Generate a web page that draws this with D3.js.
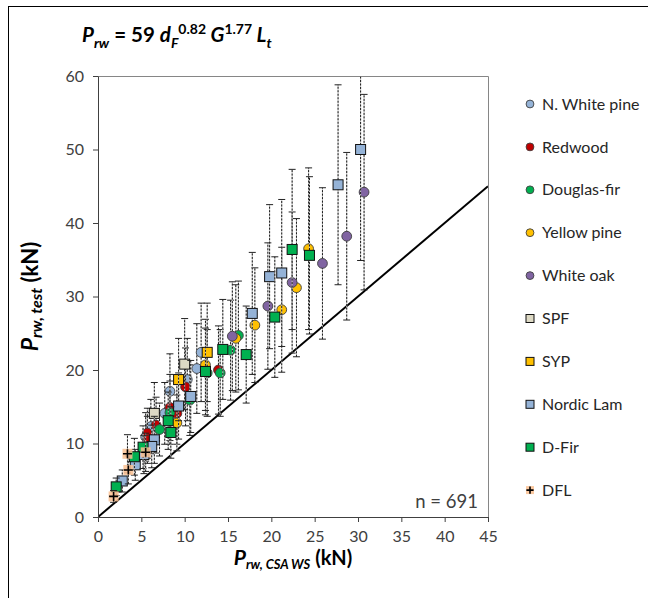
<!DOCTYPE html>
<html>
<head>
<meta charset="utf-8">
<script src="https://cdn.jsdelivr.net/npm/d3@7"></script>
<style>
body { margin: 0; background: #fff; }
svg { display: block; font-family: Lato, "Open Sans", sans-serif; }
</style>
</head>
<body>
<div id="chart"></div>
<script>
// axis ticks
var xTicks = [0, 5, 10, 15, 20, 25, 30, 35, 40, 45];
var yTicks = [0, 10, 20, 30, 40, 50, 60];

// each point: [P_rw CSA WS, P_rw test, error half-width]  (kN)
var nWhitePine = [[11.9,22.4,6.7],[11.4,20.2,6.1],[10.3,18.7,5.6],[8.3,17.1,5.1],[7.7,14.1,4.2],[6.1,12.3,3.7],[5.5,10.9,3.3]];
var redwood = [[13.9,20.0,6.0],[10.1,17.7,5.3],[8.3,14.9,4.5],[9.1,14.1,4.2],[6.7,12.5,3.8],[5.7,11.4,3.4],[5.7,10.5,3.2]];
var douglasFir = [[16.2,24.7,7.4],[15.3,22.7,6.8],[14.1,19.6,5.9],[12.6,19.6,5.9],[10.6,15.9,4.8],[8.3,14.2,4.3],[7.1,11.9,3.6]];
var yellowPine = [[24.3,36.5,11.0],[22.9,31.2,9.4],[21.2,28.2,8.5],[18.1,26.1,7.8],[15.9,24.3,7.3],[12.4,20.7,6.2],[9.1,12.8,3.8]];
var whiteOak = [[30.7,44.2,13.3],[28.7,38.2,11.4],[25.9,34.5,10.3],[22.4,31.9,9.6],[19.6,28.7,8.6],[15.5,24.6,7.4]];
var spf = [[10.0,20.8,6.2],[6.5,14.1,4.2]];
var syp = [[12.6,22.4,6.7],[9.3,18.7,5.6]];
var nordicLam = [[30.3,50.0,15.1],[27.7,45.2,13.6],[21.2,33.2,10.0],[19.8,32.7,9.8],[17.8,27.7,8.3],[10.7,16.4,4.9],[9.3,15.1,4.5],[6.5,10.5,3.2],[6.2,9.6,2.9],[5.3,8.5,2.6],[4.3,7.1,2.1],[2.8,4.9,1.5]];
var dFir = [[22.4,36.4,10.9],[24.4,35.6,10.7],[20.4,27.2,8.2],[14.4,22.8,6.8],[17.1,22.1,6.6],[12.4,19.8,5.9],[8.1,13.1,3.9],[8.4,11.5,3.5],[5.2,9.5,2.9],[4.2,8.2,2.5],[2.1,4.1,1.2]];
var dfl = [[5.5,8.8,2.6],[3.4,8.6,2.6],[3.5,6.4,1.9],[1.8,2.8,0.8]];

var seriesNames = ["N. White pine","Redwood","Douglas-fir","Yellow pine","White oak","SPF","SYP","Nordic Lam","D-Fir","DFL"];
var seriesData = [nWhitePine, redwood, douglasFir, yellowPine, whiteOak, spf, syp, nordicLam, dFir, dfl];
var seriesShape = ["circle","circle","circle","circle","circle","square","square","square","square","plus"];
var seriesColor = ["#95B3D7","#C00000","#00B050","#FFC000","#8064A2","#DDD9C4","#FFC000","#95B3D7","#00B050","#FAC090"];
var nLabel = "n = 691";

var W = 648, H = 598;
var svg = d3.select("#chart").append("svg").attr("width", W).attr("height", H);

// outer frame
svg.append("rect").attr("x", 8.5).attr("y", 6.5).attr("width", 700).attr("height", 700)
  .attr("fill", "none").attr("stroke", "#000").attr("stroke-width", 1);

var x = d3.scaleLinear().domain([0, 45]).range([98, 488]);
var y = d3.scaleLinear().domain([0, 60]).range([517, 76]);

// plot border (top / right)
svg.append("path")
  .attr("d", "M" + x(0) + "," + (y(60) + 0.5) + "H" + (x(45) + 0.5) + "V" + y(0))
  .attr("fill", "none").attr("stroke", "#868686").attr("stroke-width", 1);

svg.append("defs").append("clipPath").attr("id", "plotclip")
  .append("rect").attr("x", x(0)).attr("y", y(60)).attr("width", x(45) - x(0)).attr("height", y(0) - y(60));

var plot = svg.append("g").attr("clip-path", "url(#plotclip)");

// 1:1 line
plot.append("line")
  .attr("x1", x(0)).attr("y1", y(0)).attr("x2", x(45)).attr("y2", y(45))
  .attr("stroke", "#000").attr("stroke-width", 2);

function drawMarker(g, shape, color, cx, cy, s) {
  if (shape == "circle") {
    g.append("circle").attr("cx", cx).attr("cy", cy).attr("r", 4.9 * s)
      .attr("fill", color).attr("stroke", "#404040").attr("stroke-width", 0.9);
  } else if (shape == "square") {
    g.append("rect").attr("x", cx - 5 * s).attr("y", cy - 5 * s)
      .attr("width", 10 * s).attr("height", 10 * s)
      .attr("fill", color).attr("stroke", "#111").attr("stroke-width", 1);
  } else {
    g.append("rect").attr("x", cx - 5 * s).attr("y", cy - 5 * s)
      .attr("width", 10 * s).attr("height", 10 * s)
      .attr("fill", color).attr("opacity", 0.85);
    g.append("path")
      .attr("d", "M" + (cx - 4.5 * s) + "," + cy + "H" + (cx + 4.5 * s) + "M" + cx + "," + (cy - 4.5 * s) + "V" + (cy + 4.5 * s))
      .attr("stroke", "#000").attr("stroke-width", 1.6);
  }
}

// error bars and markers, series by series
seriesData.forEach(function(data, si) {
  var g = plot.append("g").attr("class", "series");
  var eb = g.selectAll(".err").data(data).enter().append("g").attr("class", "err");
  eb.append("line")
    .attr("x1", function(d) { return x(d[0]); }).attr("x2", function(d) { return x(d[0]); })
    .attr("y1", function(d) { return y(d[1] - d[2]); }).attr("y2", function(d) { return y(d[1] + d[2]); })
    .attr("stroke", "#c4c4c4").attr("stroke-width", 1);
  eb.append("line")
    .attr("x1", function(d) { return x(d[0]); }).attr("x2", function(d) { return x(d[0]); })
    .attr("y1", function(d) { return y(d[1] - d[2]); }).attr("y2", function(d) { return y(d[1] + d[2]); })
    .attr("stroke", "#1a1a1a").attr("stroke-width", 1).attr("stroke-dasharray", "2,1.5");
  [-1, 1].forEach(function(sgn) {
    eb.append("line")
      .attr("x1", function(d) { return x(d[0]) - 3.5; }).attr("x2", function(d) { return x(d[0]) + 3.5; })
      .attr("y1", function(d) { return y(d[1] + sgn * d[2]); }).attr("y2", function(d) { return y(d[1] + sgn * d[2]); })
      .attr("stroke", "#222").attr("stroke-width", 1);
  });
  data.forEach(function(d) {
    drawMarker(g, seriesShape[si], seriesColor[si], x(d[0]), y(d[1]), 1);
  });
});

// axes
var xAxis = d3.axisBottom(x).tickValues(xTicks).tickSize(5).tickSizeOuter(0).tickPadding(9);
var yAxis = d3.axisLeft(y).tickValues(yTicks).tickSize(5).tickSizeOuter(0).tickPadding(9);

var gx = svg.append("g").attr("transform", "translate(0," + y(0) + ")").call(xAxis);
var gy = svg.append("g").attr("transform", "translate(" + x(0) + ",0)").call(yAxis);
[gx, gy].forEach(function(g) {
  g.select(".domain").attr("stroke", "#404040");
  g.selectAll(".tick line").attr("stroke", "#404040");
  g.selectAll(".tick text").attr("fill", "#404040").attr("font-size", 16)
    .attr("font-family", "Lato, 'Open Sans', sans-serif");
});

// rich text helper: parts = [text, size, baseline shift, italic?]
function richText(t, parts) {
  var cur = 0;
  parts.forEach(function(p) {
    t.append("tspan").text(p[0]).attr("font-size", p[1])
      .attr("dy", p[2] - cur).attr("font-style", p[3] ? "italic" : "normal");
    cur = p[2];
  });
}

// equation title
richText(svg.append("text").attr("x", 82).attr("y", 42).attr("font-weight", "bold").attr("fill", "#000"), [
  ["P", 20.5, 0, true], ["rw", 14, 6, true], [" = 59 ", 20.5, 0, false],
  ["d", 20.5, 0, true], ["F", 14, 6, true], ["0.82", 14, -8, false],
  [" G", 20.5, 0, true], ["1.77", 14, -8, false],
  [" L", 20.5, 0, true], ["t", 14, 6, true]
]);

// x axis title
richText(svg.append("text").attr("x", 293).attr("y", 565).attr("text-anchor", "middle")
  .attr("font-weight", "bold").attr("fill", "#000"), [
  ["P", 21, 0, true], ["rw, CSA WS", 13, 4, true], [" (kN)", 20, 0, false]
]);

// y axis title
richText(svg.append("text").attr("transform", "translate(38," + ((y(0) + y(60)) / 2) + ") rotate(-90)")
  .attr("text-anchor", "middle").attr("font-weight", "bold").attr("fill", "#000"), [
  ["P", 23, 0, true], ["rw, test", 16, 4, true], [" (kN)", 22, 0, false]
]);

// sample count
svg.append("text").attr("x", 478).attr("y", 508).attr("text-anchor", "end")
  .attr("font-size", 18.5).attr("fill", "#404040").text(nLabel);

// legend
var legend = svg.append("g").attr("transform", "translate(530,104)");
seriesNames.forEach(function(name, i) {
  var row = legend.append("g").attr("transform", "translate(0," + (i * 42.9) + ")");
  drawMarker(row, seriesShape[i], seriesColor[i], 0, 0, 0.8);
  row.append("text").attr("x", 12).attr("y", 0).attr("dy", "0.35em")
    .attr("font-size", 16).attr("fill", "#262626").text(name);
});
</script>
</body>
</html>
